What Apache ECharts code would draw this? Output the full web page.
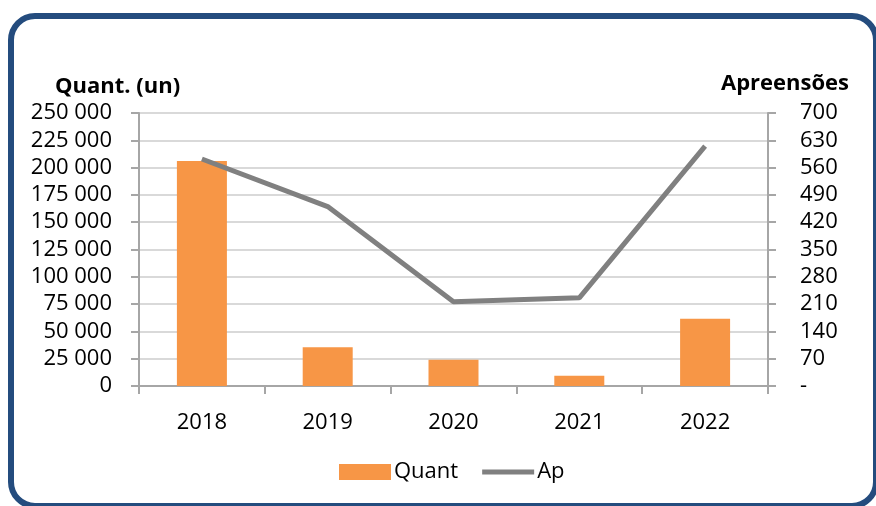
<!DOCTYPE html>
<html>
<head>
<meta charset="utf-8">
<script src="https://cdn.jsdelivr.net/npm/echarts@6/dist/echarts.min.js"></script>
<style>
html,body{margin:0;padding:0;background:#fff;}
#c{width:876px;height:506px;}
</style>
</head>
<body>
<div id="c"></div>
<script>
var categories = ['2018', '2019', '2020', '2021', '2022'];
var quantValues = [206000, 35500, 24000, 9500, 61500];
var apValues = [582, 460, 216, 226, 615];
var leftTitle = 'Quant. (un)';
var rightTitle = 'Apreensões';

var FONT = '"Open Sans", "Noto Sans", sans-serif';
var chart = echarts.init(document.getElementById('c'), null, {renderer: 'canvas'});

function fmtThousands(v) {
  var s = String(Math.round(v));
  return s.replace(/\B(?=(\d{3})+(?!\d))/g, ' ');
}

chart.setOption({
  animation: false,
  backgroundColor: '#ffffff',
  textStyle: {fontFamily: FONT},
  graphic: [{
    type: 'rect',
    shape: {x: 11, y: 16, width: 865, height: 490, r: 24},
    style: {fill: 'none', stroke: '#244c7e', lineWidth: 6},
    silent: true
  }],
  title: [
    {text: leftTitle, left: 50, top: 71, textStyle: {fontFamily: FONT, fontSize: 22, fontWeight: 'bold', color: '#000'}},
    {text: rightTitle, right: 22, top: 68, textStyle: {fontFamily: FONT, fontSize: 22, fontWeight: 'bold', color: '#000'}}
  ],
  grid: {left: 139, right: 108, top: 113, bottom: 120, containLabel: false},
  legend: {
    left: 334, top: 456,
    itemWidth: 52, itemHeight: 16, itemGap: 24,
    textStyle: {fontFamily: FONT, fontSize: 22, color: '#000', padding: [0, 0, 0, -2]},
    data: [
      {name: 'Quant', icon: 'rect'},
      {name: 'Ap', icon: 'path://M0,0 L52,0 L52,5 L0,5 Z', itemStyle: {color: '#808080'}}
    ]
  },
  xAxis: {
    type: 'category',
    data: categories,
    boundaryGap: true,
    axisLine: {lineStyle: {color: '#a6a6a6', width: 2}},
    axisTick: {show: true, length: 8, lineStyle: {color: '#a6a6a6', width: 2}},
    axisLabel: {fontFamily: FONT, fontSize: 22, color: '#000', margin: 26}
  },
  yAxis: [{
    type: 'value',
    min: 0, max: 250000, interval: 25000,
    axisLine: {show: true, lineStyle: {color: '#a6a6a6', width: 2}},
    axisTick: {show: true, length: 8, lineStyle: {color: '#a6a6a6', width: 2}},
    splitLine: {show: true, lineStyle: {color: '#d9d9d9', width: 2}},
    axisLabel: {fontFamily: FONT, fontSize: 22, color: '#000', margin: 27, formatter: fmtThousands}
  }, {
    type: 'value',
    position: 'right',
    min: 0, max: 700, interval: 70,
    axisLine: {show: true, lineStyle: {color: '#a6a6a6', width: 2}},
    axisTick: {show: true, length: 8, lineStyle: {color: '#a6a6a6', width: 2}},
    splitLine: {show: false},
    axisLabel: {fontFamily: FONT, fontSize: 22, color: '#000', margin: 32,
      formatter: function (v) { return v === 0 ? '-' : String(v); }}
  }],
  series: [{
    name: 'Quant',
    type: 'bar',
    yAxisIndex: 0,
    data: quantValues,
    barWidth: 50,
    itemStyle: {color: '#f79646'}
  }, {
    name: 'Ap',
    type: 'line',
    yAxisIndex: 1,
    data: apValues,
    symbol: 'none',
    lineStyle: {color: '#808080', width: 5},
    itemStyle: {color: '#808080'}
  }]
});
</script>
</body>
</html>
